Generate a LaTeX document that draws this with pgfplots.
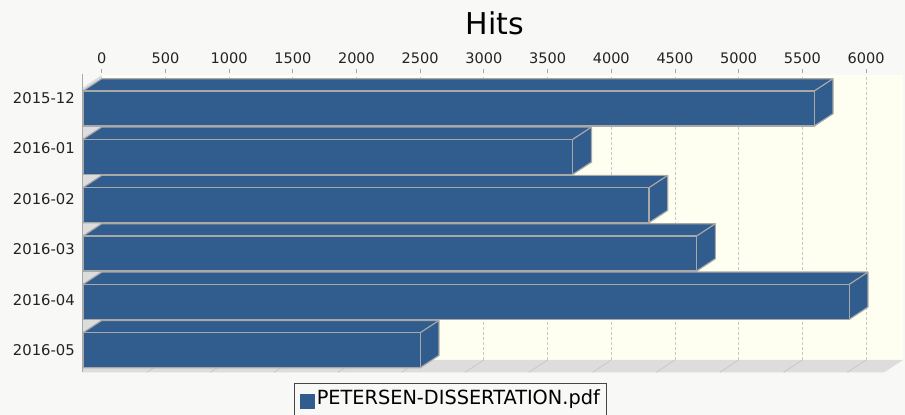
\documentclass[border=0pt]{standalone}
\usepackage{fontspec}
\setmainfont{DejaVu Sans}
\newfontfamily\legendfont[FakeStretch=0.99]{DejaVu Sans}
\usepackage{pgfplots}
\pgfplotsset{compat=1.18}
\definecolor{bgcol}{RGB}{248,248,246}
\definecolor{cream}{RGB}{255,255,241}
\definecolor{barblue}{RGB}{48,92,142}
\definecolor{edgegray}{RGB}{168,168,168}
\definecolor{gridgray}{RGB}{200,200,200}
\definecolor{wallgray}{RGB}{221,221,221}
\definecolor{labelgray}{RGB}{35,35,35}
\definecolor{legendborder}{RGB}{70,70,70}
\begin{document}
\begin{tikzpicture}
\useasboundingbox (0,0) rectangle (905bp,415bp);
\fill[bgcol] (0,0) rectangle (905bp,415bp);
\clip (0,0) rectangle (905bp,415bp);
\node[anchor=base, font=\fontsize{30bp}{36bp}\selectfont] at (495bp,380bp) {Hits};
\begin{axis}[
  at={(101.7bp,55bp)}, anchor=south west,
  scale only axis, width=801.3bp, height=285bp,
  xmin=0, xmax=6290, ymin=-5.456, ymax=0.438,
  clip=false,
  axis line style={draw=none},
  axis background/.style={fill=cream},
  xtick={0,500,...,6000},
  xtick pos=right, xticklabel pos=right,
  xtick align=outside,
  major tick length=4bp,
  x tick style={draw=edgegray, line width=0.8bp, yshift=2bp},
  xmajorgrids,
  grid style={draw=gridgray, dash pattern=on 2.5bp off 2.5bp, line width=0.8bp},
  scaled x ticks=false,
  /pgf/number format/assume math mode=true,
  /pgf/number format/1000 sep={},
  xticklabel style={font=\fontsize{14.5bp}{17bp}\selectfont, text=labelgray, anchor=south, inner sep=0pt, yshift=7.5bp},
  ytick={-5.254,-4.209,-3.165,-2.120,-1.076,-0.031},
  yticklabels={2016-05,2016-04,2016-03,2016-02,2016-01,2015-12},
  y tick style={draw=none},
  yticklabel style={font=\fontsize{14.8bp}{17bp}\selectfont, text=labelgray, anchor=east, inner sep=0pt, xshift=-26.7bp},
  legend style={at={(0.2404,-0.0807)}, anchor=north west, draw=legendborder, line width=1bp, fill=none,
    inner xsep=5bp, inner ysep=4bp, font=\legendfont\fontsize{19.5bp}{23bp}\selectfont, text=black,
    nodes={inner sep=2bp, text depth=8bp}},
  every axis plot/.append style={line join=round},
]
\addlegendimage{legend image code/.code={\fill[barblue] (0bp,-8bp) rectangle (14bp,6bp);}}
\addlegendentry{PETERSEN-DISSERTATION.pdf}
% floor and left wall
\addplot[fill=wallgray, draw=none] coordinates {(-147,-5.71) (0,-5.456) (6290,-5.456) (6143,-5.71)} -- cycle;
\addplot[fill=wallgray, draw=none] coordinates {(-147,0.184) (0,0.438) (0,-5.456) (-147,-5.71)} -- cycle;
% floor grid lines
\addplot[draw=gridgray, line width=0.8bp, unbounded coords=jump] coordinates {
 (500,-5.456) (353,-5.71) (nan,nan) (1000,-5.456) (853,-5.71) (nan,nan)
 (1500,-5.456) (1353,-5.71) (nan,nan) (2000,-5.456) (1853,-5.71) (nan,nan)
 (2500,-5.456) (2353,-5.71) (nan,nan) (3000,-5.456) (2853,-5.71) (nan,nan)
 (3500,-5.456) (3353,-5.71) (nan,nan) (4000,-5.456) (3853,-5.71) (nan,nan)
 (4500,-5.456) (4353,-5.71) (nan,nan) (5000,-5.456) (4853,-5.71) (nan,nan)
 (5500,-5.456) (5353,-5.71) (nan,nan) (6000,-5.456) (5853,-5.71)};
% front axis line
\addplot[draw=edgegray, line width=1bp] coordinates {(-147,0.458) (-147,-5.71)};
% bars: value 5741 (2015-12)
\addplot[fill=barblue, draw=edgegray, line width=1.2bp] coordinates {(-147,-0.616) (-147,0.108) (0,0.362) (5741,0.362) (5741,-0.362) (5594,-0.616)} -- cycle;
\addplot[fill=barblue, draw=edgegray, line width=1.2bp] coordinates {(-147,0.108) (5594,0.108) (5594,-0.616) (-147,-0.616)} -- cycle;
\addplot[draw=edgegray, line width=1.2bp] coordinates {(5594,0.108) (5741,0.362)};
% 3845 (2016-01)
\addplot[fill=barblue, draw=edgegray, line width=1.2bp] coordinates {(-147,-1.616) (-147,-0.892) (0,-0.638) (3845,-0.638) (3845,-1.362) (3698,-1.616)} -- cycle;
\addplot[fill=barblue, draw=edgegray, line width=1.2bp] coordinates {(-147,-0.892) (3698,-0.892) (3698,-1.616) (-147,-1.616)} -- cycle;
\addplot[draw=edgegray, line width=1.2bp] coordinates {(3698,-0.892) (3845,-0.638)};
% 4443 (2016-02)
\addplot[fill=barblue, draw=edgegray, line width=1.2bp] coordinates {(-147,-2.616) (-147,-1.892) (0,-1.638) (4443,-1.638) (4443,-2.362) (4296,-2.616)} -- cycle;
\addplot[fill=barblue, draw=edgegray, line width=1.2bp] coordinates {(-147,-1.892) (4296,-1.892) (4296,-2.616) (-147,-2.616)} -- cycle;
\addplot[draw=edgegray, line width=1.2bp] coordinates {(4296,-1.892) (4443,-1.638)};
% 4817 (2016-03)
\addplot[fill=barblue, draw=edgegray, line width=1.2bp] coordinates {(-147,-3.616) (-147,-2.892) (0,-2.638) (4817,-2.638) (4817,-3.362) (4670,-3.616)} -- cycle;
\addplot[fill=barblue, draw=edgegray, line width=1.2bp] coordinates {(-147,-2.892) (4670,-2.892) (4670,-3.616) (-147,-3.616)} -- cycle;
\addplot[draw=edgegray, line width=1.2bp] coordinates {(4670,-2.892) (4817,-2.638)};
% 6015 (2016-04)
\addplot[fill=barblue, draw=edgegray, line width=1.2bp] coordinates {(-147,-4.616) (-147,-3.892) (0,-3.638) (6015,-3.638) (6015,-4.362) (5868,-4.616)} -- cycle;
\addplot[fill=barblue, draw=edgegray, line width=1.2bp] coordinates {(-147,-3.892) (5868,-3.892) (5868,-4.616) (-147,-4.616)} -- cycle;
\addplot[draw=edgegray, line width=1.2bp] coordinates {(5868,-3.892) (6015,-3.638)};
% 2647 (2016-05)
\addplot[fill=barblue, draw=edgegray, line width=1.2bp] coordinates {(-147,-5.616) (-147,-4.892) (0,-4.638) (2647,-4.638) (2647,-5.362) (2500,-5.616)} -- cycle;
\addplot[fill=barblue, draw=edgegray, line width=1.2bp] coordinates {(-147,-4.892) (2500,-4.892) (2500,-5.616) (-147,-5.616)} -- cycle;
\addplot[draw=edgegray, line width=1.2bp] coordinates {(2500,-4.892) (2647,-4.638)};
\end{axis}
\end{tikzpicture}
\end{document}
